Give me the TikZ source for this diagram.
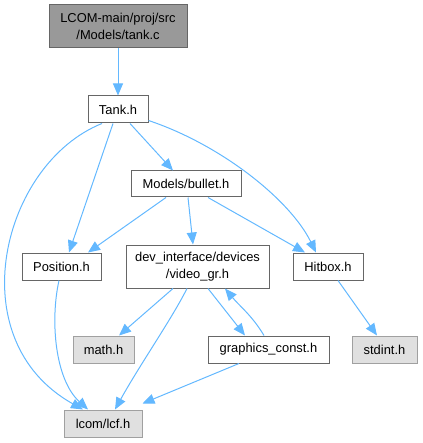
\documentclass[tikz,border=0pt]{standalone}
\usepackage{fontspec}
\setmainfont{Liberation Sans}
\usepackage{tikz}
\usetikzlibrary{arrows.meta}
\usetikzlibrary{positioning}
\definecolor{edgeblue}{RGB}{99,184,255}
\definecolor{darkfill}{RGB}{153,153,153}
\definecolor{darkline}{RGB}{102,102,102}
\definecolor{lightfill}{RGB}{224,224,224}
\definecolor{lightline}{RGB}{160,160,160}
\tikzset{every file/.style={draw=darkline, fill=white, line width=1pt,
    inner sep=0pt, align=center, font=\fontsize{12.9}{17}\selectfont}}
\begin{document}
\begin{tikzpicture} [x=1pt, y=-1pt,
      file/.style={every file},
      main/.style={every file, fill=darkfill},
      sys/.style={every file, draw=lightline, fill=lightfill},
      dep/.style={draw=edgeblue, line width=1pt,
        -{Triangle[length=12pt, width=10pt]}}]
      \useasboundingbox (0,0) rectangle (422,443);

      \node[main, minimum width=138pt, minimum height=43pt] (tankc)
        at (118,26.5) {LCOM-main/proj/src\\/Models/tank.c};
      \node[file, minimum width=60pt, minimum height=27pt] (tankh)
        at (118,109.5) {Tank.h};
      \node[file, minimum width=110pt, minimum height=26pt] (bullet)
        at (186,184) {Models/bullet.h};
      \node[file, minimum width=79pt, minimum height=27pt] (position)
        at (61.5,266.5) {Position.h};
      \node[file, minimum width=143pt, minimum height=43pt] (videogr)
        at (197.5,266.5) {dev\_interface/devices\\/video\_gr.h};
      \node[file, minimum width=70pt, minimum height=27pt] (hitbox)
        at (328,266.5) {Hitbox.h};
      \node[sys, minimum width=61pt, minimum height=27pt] (mathh)
        at (103.5,349.5) {math.h};
      \node[file, minimum width=121pt, minimum height=27pt] (graphics)
        at (268.5,349.5) {graphics\_const.h};
      \node[sys, minimum width=65pt, minimum height=27pt] (stdint)
        at (384.5,349.5) {stdint.h};
      \node[sys, minimum width=78pt, minimum height=27pt] (lcf)
        at (103,423.5) {lcom/lcf.h};

      \draw[dep] (tankc.south) -- (tankh.north);
      \draw[dep] ([xshift=12pt]tankh.south) -- ([xshift=-13pt]bullet.north);
      \draw[dep] ([xshift=-5pt]tankh.south) -- ([xshift=7.5pt]position.north);
      \draw[dep] ([xshift=-16pt]tankh.south) .. controls +(-100,40) and +(-125,-70)
        .. ([xshift=-20pt]lcf.north);
      \draw[dep] ([yshift=-11pt]tankh.east) .. controls +(72,24) and +(-26,-53)
        .. ([xshift=-12pt]hitbox.north);
      \draw[dep] ([xshift=-20pt]bullet.south) -- ([xshift=26.5pt]position.north);
      \draw[dep] ([xshift=2pt]bullet.south) -- ([xshift=-4.5pt]videogr.north);
      \draw[dep] ([xshift=22pt]bullet.south) -- ([xshift=-23pt]hitbox.north);
      \draw[dep] ([xshift=-2.5pt]position.south) .. controls +(-9,40) and +(-33,-30)
        .. ([xshift=-15pt]lcf.north);
      \draw[dep] ([xshift=-24.5pt]videogr.south) -- ([xshift=15.5pt]mathh.north);
      \draw[dep] ([xshift=-10.5pt]videogr.south) .. controls +(-15,30) and +(25,-45)
        .. ([xshift=12pt]lcf.north);
      \draw[dep] ([xshift=10.5pt]videogr.south) -- ([xshift=-23.5pt]graphics.north);
      \draw[dep] ([xshift=-4.5pt]graphics.north) .. controls +(-12,-20) and +(15,18)
        .. ([xshift=27.5pt]videogr.south);
      \draw[dep] ([xshift=-29.5pt]graphics.south) -- ([yshift=6pt]lcf.north east);
      \draw[dep] ([xshift=10pt]hitbox.south) -- ([xshift=-7.5pt]stdint.north);
    \end{tikzpicture}
\end{document}
